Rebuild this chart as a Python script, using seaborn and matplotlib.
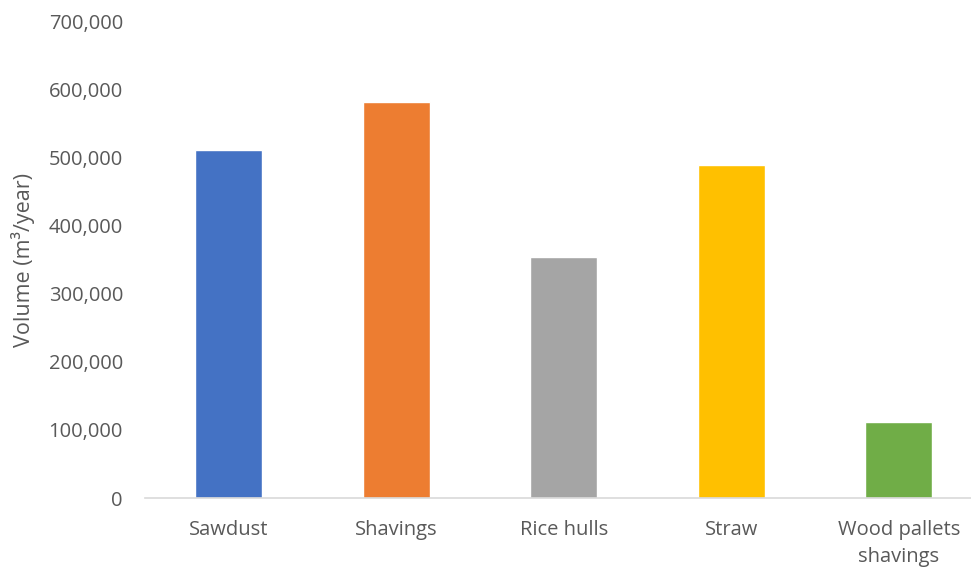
import matplotlib
matplotlib.use("Agg")
import matplotlib.pyplot as plt
import matplotlib.ticker as mticker
import seaborn as sns
import pandas as pd

categories = ["Sawdust", "Shavings", "Rice hulls", "Straw", "Wood pallets\nshavings"]
volumes = [512000, 582000, 354000, 489000, 112000]
colors = ["#4472C4", "#ED7D31", "#A5A5A5", "#FFC000", "#70AD47"]
y_ticks = [0, 100000, 200000, 300000, 400000, 500000, 600000, 700000]

sns.set_theme(style="white")
plt.rcParams["font.family"] = ["Open Sans", "DejaVu Sans"]

df = pd.DataFrame({"cat": categories, "vol": volumes})

fig = plt.figure(figsize=(9.71, 5.70), dpi=100)
ax = fig.add_axes([145.2 / 971, 72 / 570, 837.5 / 971, 476.3 / 570])

sns.barplot(data=df, x="cat", y="vol", hue="cat", palette=colors, width=0.4,
            legend=False, ax=ax, saturation=1)

ax.set_ylim(0, 700000)
ax.set_xlim(-0.5, 4.5)
ax.set_yticks(y_ticks)
ax.yaxis.set_major_formatter(mticker.FuncFormatter(lambda v, p: f"{int(v):,}"))
ax.set_xlabel("")
ax.set_ylabel("Volume (m³/year)", color="#595959", fontsize=15.5, labelpad=10)

for s in ["top", "right", "left"]:
    ax.spines[s].set_visible(False)
ax.spines["bottom"].set_color("#D9D9D9")
ax.spines["bottom"].set_linewidth(1.2)

ax.tick_params(axis="y", length=0, pad=16, labelsize=14.5, labelcolor="#595959")
ax.tick_params(axis="x", length=0, pad=16, labelsize=14.5, labelcolor="#595959")
for lbl in ax.get_xticklabels():
    lbl.set_linespacing(1.45)
    lbl.set_verticalalignment("top")
ax.grid(False)

fig.savefig("out.png", dpi=100)
